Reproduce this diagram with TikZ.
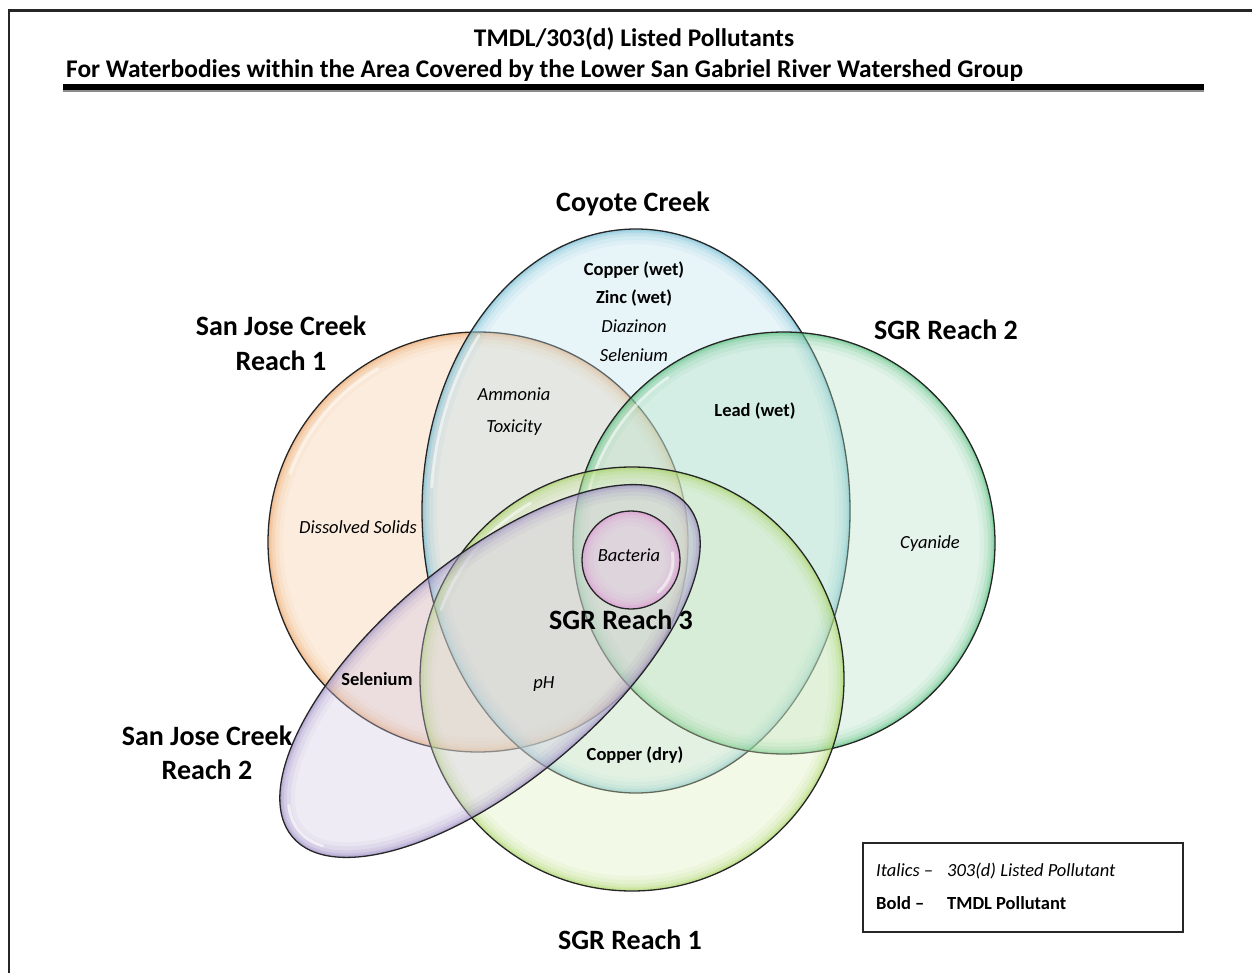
\documentclass[tikz,border=0pt]{standalone}
\usepackage{fontspec}
\setmainfont{Carlito}
\definecolor{orF}{HTML}{F6C9A1}\definecolor{orR}{HTML}{EE9A55}
\definecolor{blF}{HTML}{BDE0EB}\definecolor{blR}{HTML}{5DB3D0}
\definecolor{grF}{HTML}{B2E2C3}\definecolor{grR}{HTML}{3CB86A}
\definecolor{ygF}{HTML}{DDEEBD}\definecolor{ygR}{HTML}{9CD04A}
\definecolor{puF}{HTML}{D1C6E2}\definecolor{puR}{HTML}{8F7DBE}
\definecolor{piF}{HTML}{F2C6EC}\definecolor{piR}{HTML}{DC8FD3}
\newcommand{\glossy}[3]{%
  \fill[#2, fill opacity=0.35] #1;
  \begin{scope}
    \clip #1;
    \foreach \w/\o in {30/0.06,22/0.09,14/0.13,8/0.18,4/0.25}{\draw[#3, line width=\w pt, draw opacity=\o] #1;}
  \end{scope}
  \draw[outline] #1;
}
\begin{document}
\begin{tikzpicture}[x=1pt,y=-1pt,
  outline/.style={draw=black!85, line width=1.3pt},
  hl/.style={white, line width=3pt, draw opacity=0.55, line cap=round},
  lab/.style={inner sep=0pt, text height=11.9pt, text depth=0pt},
  labb/.style={lab, font=\fontsize{18.5}{22}\selectfont\bfseries},
  labi/.style={lab, font=\fontsize{18.5}{22}\selectfont\itshape},
  head/.style={inner sep=0pt, text height=18pt, text depth=0pt, font=\fontsize{28}{34}\selectfont\bfseries},
  ttl/.style={inner sep=0pt, text height=16.4pt, text depth=0pt, font=\fontsize{25.4}{30}\selectfont\bfseries}]
\useasboundingbox (0,0) rectangle (1252,973);
\fill[white] (0,0) rectangle (1252,973);
% frame
\draw[black!85, line width=2.2pt] (9,975) -- (9,10.5) -- (1254,10.5);
% title
\node[ttl] (t1) at (634,38) {TMDL/303(d) Listed Pollutants};
\node[ttl, anchor=west] (t2) at (66,69) {For Waterbodies within the Area Covered by the Lower San Gabriel River Watershed Group};
\fill[black] (63,84) rectangle (1204,90);
\draw[black!45, line width=1.3pt] (63,91) -- (1204,91);
% shapes
\glossy{(478,542) circle[radius=210]}{orF}{orR}
\draw[hl] (478,542) ++(200:200) arc[start angle=200, end angle=240, radius=200];
\glossy{(636,511) ellipse[x radius=214, y radius=282]}{blF}{blR}
\draw[hl] (636,511) ++(185:205 and 273) arc[start angle=185, end angle=220, x radius=205, y radius=273];
\glossy{(784,543) circle[radius=211]}{grF}{grR}
\draw[hl] (784,543) ++(195:202) arc[start angle=195, end angle=235, radius=202];
\glossy{(632,679) circle[radius=212]}{ygF}{ygR}
\draw[hl] (632,679) ++(200:203) arc[start angle=200, end angle=240, radius=203];
\begin{scope}[rotate around={40:(490,671)}]
\glossy{(490,671) ellipse[x radius=258, y radius=111]}{puF}{puR}
\draw[hl] (490,671) ++(165:249 and 102) arc[start angle=165, end angle=195, x radius=249, y radius=102];
\end{scope}
\glossy{(631,560) circle[radius=49]}{piF}{piR}
\draw[hl] (631,560) ++(-10:42) arc[start angle=-10, end angle=50, radius=42];
% headings
\node[head] (cc) at (633,203) {Coyote Creek};
\node[head] (sj1a) at (281,327) {San Jose Creek};
\node[head] (sj1b) at (281,361) {Reach 1};
\node[head] (sgr2) at (946,330) {SGR Reach 2};
\node[head] (sgr3) at (621,620) {SGR Reach 3};
\node[head] (sj2a) at (207,736) {San Jose Creek};
\node[head] (sj2b) at (207,770) {Reach 2};
\node[head] (sgr1) at (630,940) {SGR Reach 1};
% pollutants
\node[labb] (p1) at (634,270) {Copper (wet)};
\node[labb] (p2) at (634,298) {Zinc (wet)};
\node[labi] (p3) at (634,327) {Diazinon};
\node[labi] (p4) at (634,356) {Selenium};
\node[labi] (p5) at (514,395) {Ammonia};
\node[labi] (p6) at (514,427) {Toxicity};
\node[labb] (p7) at (755,411) {Lead (wet)};
\node[labi] (p8) at (358,528) {Dissolved Solids};
\node[labi] (p9) at (930,543) {Cyanide};
\node[labi] (p10) at (629,556) {Bacteria};
\node[labb] (p11) at (377,680) {Selenium};
\node[labi] (p12) at (544,683) {pH};
\node[labb] (p13) at (635,755) {Copper (dry)};
% legend
\draw[black!85, line width=2pt] (863,843) rectangle (1183,932);
\node[labi, anchor=west] (l1) at (876,871) {Italics –};
\node[labi, anchor=west] (l2) at (947,871) {303(d) Listed Pollutant};
\node[labb, anchor=west] (l3) at (876,904) {Bold –};
\node[labb, anchor=west] (l4) at (947,904) {TMDL Pollutant};
\end{tikzpicture}
\end{document}
